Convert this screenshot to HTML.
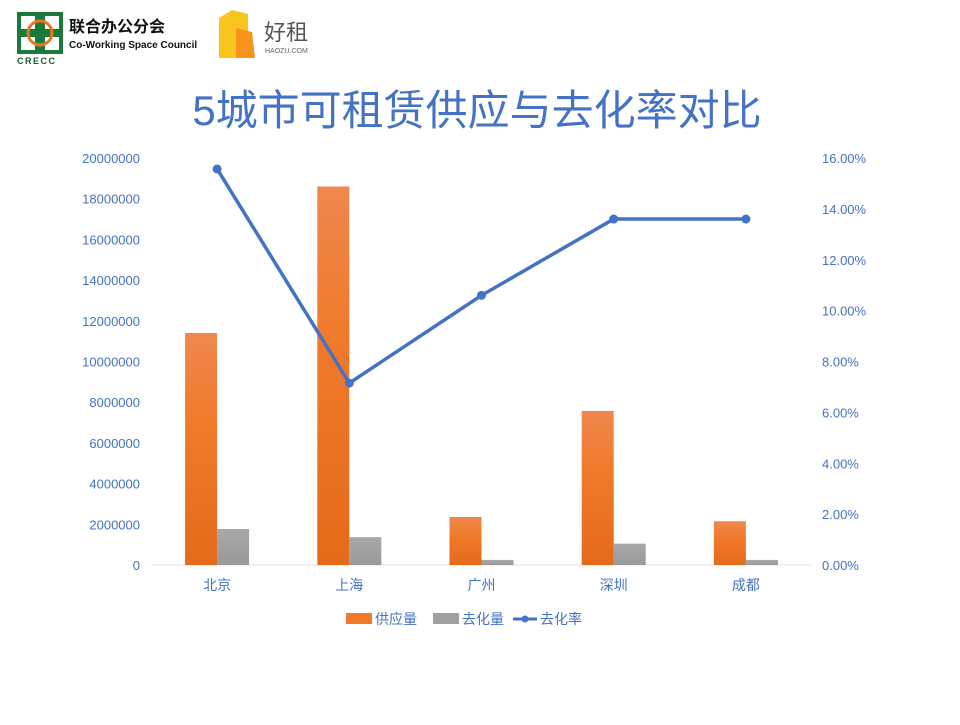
<!DOCTYPE html>
<html><head><meta charset="utf-8"><style>
body{margin:0;background:#fff;width:960px;height:720px;overflow:hidden;font-family:"Liberation Sans","Noto Sans CJK SC",sans-serif}
svg text{font-family:"Liberation Sans","Noto Sans CJK SC",sans-serif}
</style></head><body>
<svg width="960" height="720">
<defs>
<linearGradient id="og" x1="0" y1="0" x2="0" y2="1"><stop offset="0" stop-color="#f0874e"/><stop offset="0.4" stop-color="#f07a2a"/><stop offset="1" stop-color="#e56a1a"/></linearGradient>
<linearGradient id="gg" x1="0" y1="0" x2="0" y2="1"><stop offset="0" stop-color="#a8a8a8"/><stop offset="1" stop-color="#999"/></linearGradient>
</defs>
<g>
<rect x="17" y="12" width="46" height="42" fill="#1a7a3a"/>
<rect x="21" y="16" width="14" height="13" fill="#fff"/><rect x="45" y="16" width="14" height="13" fill="#fff"/>
<rect x="21" y="37" width="14" height="13" fill="#fff"/><rect x="45" y="37" width="14" height="13" fill="#fff"/>
<circle cx="40" cy="33" r="12" fill="none" stroke="#e87722" stroke-width="3"/>
<text x="17" y="64" font-size="9" font-weight="bold" fill="#1a5a2a" letter-spacing="1.5">CRECC</text>
<text x="69" y="32" font-size="16" font-weight="bold" fill="#111">联合办公分会</text>
<text x="69" y="48" font-size="10" font-weight="bold" fill="#111" font-family="Liberation Serif">Co-Working Space Council</text>
</g>
<g>
<path d="M219 18 L232 10 L248 14 L248 58 L219 58 Z" fill="#f7c51e"/>
<path d="M236 28 L252 32 L255 58 L236 58 Z" fill="#f7941e"/>
<text x="264" y="40" font-size="22" fill="#555">好租</text>
<text x="265" y="53" font-size="7" fill="#666">HAOZU.COM</text>
</g>
<text x="477" y="125" text-anchor="middle" font-size="42" fill="#4472c4">5城市可租赁供应与去化率对比</text>
<g id="plot"></g>
<g>
<rect x="346" y="613" width="26" height="11" fill="#f07a2a"/>
<text x="375" y="624" font-size="14" fill="#4472c4">供应量</text>
<rect x="433" y="613" width="26" height="11" fill="#a0a0a0"/>
<text x="462" y="624" font-size="14" fill="#4472c4">去化量</text>
<line x1="513" y1="619" x2="537" y2="619" stroke="#4472c4" stroke-width="3"/>
<circle cx="525" cy="619" r="3.5" fill="#4472c4"/>
<text x="540" y="624" font-size="14" fill="#4472c4">去化率</text>
</g>
</svg>
<script>
const categories=["北京","上海","广州","深圳","成都"];
const supply=[11400000,18600000,2360000,7570000,2150000];
const absorbed=[1770000,1370000,250000,1050000,250000];
const rate=[15.57,7.15,10.6,13.6,13.6];
const leftTicks=[0,2000000,4000000,6000000,8000000,10000000,12000000,14000000,16000000,18000000,20000000];
const rightTicks=[0,2,4,6,8,10,12,14,16];
const NS="http://www.w3.org/2000/svg";
const g=document.getElementById("plot");
const x0=151,x1=812,yBase=565,yTop=158;
const yL=v=>yBase-(v/20000000)*(yBase-yTop);
const yR=v=>yBase-(v/16)*(yBase-yTop);
const step=(x1-x0)/categories.length;
const xC=i=>x0+step*(i+0.5);
function mk(t,a){const e=document.createElementNS(NS,t);for(const k in a)e.setAttribute(k,a[k]);g.appendChild(e);return e;}
const axis=mk("line",{x1:x0,y1:yBase,x2:x1,y2:yBase,stroke:"#e0e0e0"});


leftTicks.forEach(v=>{const t=mk("text",{x:140,y:yL(v)+5,"text-anchor":"end","font-size":13,fill:"#4472c4"});t.textContent=v;

});
rightTicks.forEach(v=>{const t=mk("text",{x:822,y:yR(v)+5,"font-size":13,fill:"#4472c4"});t.textContent=v.toFixed(2)+"%";

});
categories.forEach((c,i)=>{
const cx=xC(i);
const b=mk("rect",{x:cx-32,y:yL(supply[i]),width:32,height:yBase-yL(supply[i]),fill:"url(#og)"});


const b2=mk("rect",{x:cx,y:yL(absorbed[i]),width:32,height:yBase-yL(absorbed[i]),fill:"url(#gg)"});


const t=mk("text",{x:cx,y:590,"text-anchor":"middle","font-size":14,fill:"#4472c4"});t.textContent=c;


});
const pts=rate.map((v,i)=>xC(i)+","+yR(v)).join(" ");
const pl=mk("polyline",{points:pts,fill:"none",stroke:"#4472c4","stroke-width":3.5});


rate.forEach((v,i)=>{const p=mk("circle",{cx:xC(i),cy:yR(v),r:4.5,fill:"#4472c4"});

});
</script>
</body></html>
